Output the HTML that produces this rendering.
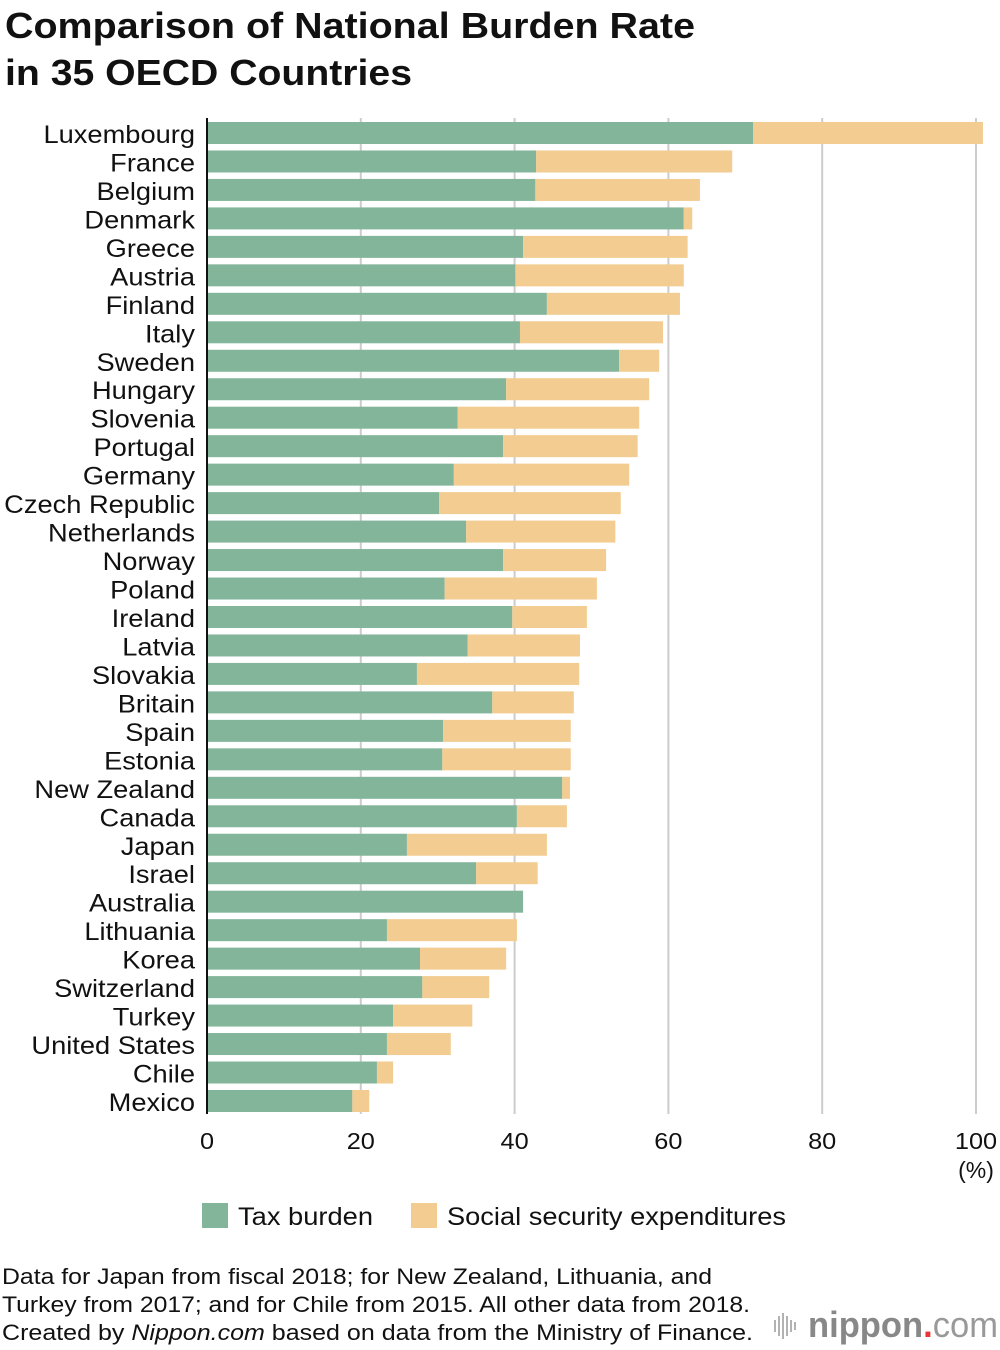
<!DOCTYPE html>
<html><head><meta charset="utf-8"><style>
body{margin:0;background:#fff;font-family:"Liberation Sans",sans-serif;}
svg{display:block}
</style></head><body>
<svg id="chart" width="1000" height="1350" xmlns="http://www.w3.org/2000/svg">
<text x="5" y="38" font-size="36" font-weight="bold" fill="#111" textLength="690" lengthAdjust="spacingAndGlyphs">Comparison of National Burden Rate</text>
<text x="5" y="85" font-size="36" font-weight="bold" fill="#111" textLength="407" lengthAdjust="spacingAndGlyphs">in 35 OECD Countries</text>
<g id="grid"></g><g id="bars"></g><g id="labels"></g><g id="ticks"></g>
<text x="976" y="1178" font-size="23" text-anchor="middle" fill="#111">(%)</text>
<g>
<rect x="202" y="1203" width="26" height="25" fill="#83b59b"/>
<text x="238" y="1225" font-size="25" fill="#111" textLength="135" lengthAdjust="spacingAndGlyphs">Tax burden</text>
<rect x="411" y="1203" width="26" height="25" fill="#f2cc90"/>
<text x="447" y="1225" font-size="25" fill="#111" textLength="339" lengthAdjust="spacingAndGlyphs">Social security expenditures</text>
</g>
<g font-size="22" fill="#111">
<text x="2" y="1284" textLength="710" lengthAdjust="spacingAndGlyphs">Data for Japan from fiscal 2018; for New Zealand, Lithuania, and</text>
<text x="2" y="1312" textLength="748" lengthAdjust="spacingAndGlyphs">Turkey from 2017; and for Chile from 2015. All other data from 2018.</text>
<text x="2" y="1340" textLength="751" lengthAdjust="spacingAndGlyphs">Created by <tspan font-style="italic">Nippon.com</tspan> based on data from the Ministry of Finance.</text>
</g>
<g>
<g stroke="#999" stroke-width="1.5"><line x1="775" y1="1320" x2="775" y2="1332"/><line x1="779" y1="1316" x2="779" y2="1336"/><line x1="783" y1="1313" x2="783" y2="1339"/><line x1="787" y1="1316" x2="787" y2="1336"/><line x1="791" y1="1320" x2="791" y2="1332"/><line x1="795" y1="1322" x2="795" y2="1330"/></g>
<text x="808" y="1337" font-size="36" font-weight="bold" fill="#888" textLength="190" lengthAdjust="spacingAndGlyphs">nippon<tspan fill="#e33">.</tspan><tspan font-weight="normal" fill="#999">com</tspan></text>
</g>
</svg>
<script>
const countries=["Luxembourg","France","Belgium","Denmark","Greece","Austria","Finland","Italy","Sweden","Hungary","Slovenia","Portugal","Germany","Czech Republic","Netherlands","Norway","Poland","Ireland","Latvia","Slovakia","Britain","Spain","Estonia","New Zealand","Canada","Japan","Israel","Australia","Lithuania","Korea","Switzerland","Turkey","United States","Chile","Mexico"];
const taxBurden=[71.0,42.8,42.7,62.0,41.1,40.1,44.2,40.7,53.6,38.9,32.6,38.5,32.1,30.2,33.7,38.5,30.9,39.7,33.9,27.3,37.1,30.7,30.6,46.2,40.3,26.0,35.0,41.1,23.4,27.7,28.0,24.2,23.4,22.1,18.9];
const socialSecurity=[29.9,25.5,21.4,1.1,21.4,21.9,17.3,18.6,5.2,18.6,23.6,17.5,22.8,23.6,19.4,13.4,19.8,9.7,14.6,21.1,10.6,16.6,16.7,1.0,6.5,18.2,8.0,0.0,16.9,11.2,8.7,10.3,8.3,2.1,2.2];
const tickValues=[0,20,40,60,80,100];
const NS="http://www.w3.org/2000/svg";
const x0=207,pxPer=7.69,top0=122,step=28.47,bh=22;
const xs=v=>x0+v*pxPer;
const ys=i=>top0+i*step;
function mk(tag,attrs,parent){const e=document.createElementNS(NS,tag);for(const k in attrs)e.setAttribute(k,attrs[k]);parent.appendChild(e);return e;}
const grid=document.getElementById('grid'),bars=document.getElementById('bars'),labels=document.getElementById('labels'),ticks=document.getElementById('ticks');
tickValues.forEach(t=>{
 if(t>0){const l=mk('line',{x1:xs(t),x2:xs(t),y1:118,y2:1114,stroke:'#ccc','stroke-width':2},grid);
 
 }
 const tx=mk('text',{x:xs(t),y:1149,'font-size':23,'text-anchor':'middle',fill:'#111'},ticks);
 tx.textContent=t;
 
 
 const w=tx.getComputedTextLength();
 tx.setAttribute('textLength',w*1.1);
 tx.setAttribute('lengthAdjust','spacingAndGlyphs');
});
countries.forEach((c,i)=>{
 const y=ys(i);
 const r1=mk('rect',{x:xs(0),y:y,width:xs(taxBurden[i])-xs(0),height:bh,fill:'#83b59b'},bars);
 
 
 const r2=mk('rect',{x:xs(taxBurden[i]),y:y,width:xs(taxBurden[i]+socialSecurity[i])-xs(taxBurden[i]),height:bh,fill:'#f2cc90'},bars);
 
 
 const t=mk('text',{x:195,y:y+bh/2+10,'font-size':25,'text-anchor':'end',fill:'#111'},labels);
 t.textContent=c;
 
 
 const w=t.getComputedTextLength();
 t.setAttribute('textLength',w*1.09);
 t.setAttribute('lengthAdjust','spacingAndGlyphs');
});
const ax=mk('line',{x1:207,x2:207,y1:118,y2:1114,stroke:'#111','stroke-width':2},ticks);


</script>
</body></html>
